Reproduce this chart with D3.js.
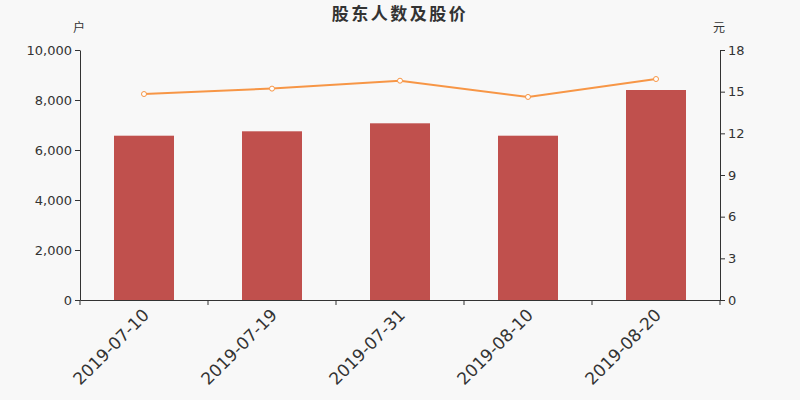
<!DOCTYPE html>
<html>
<head>
<meta charset="utf-8">
<script src="https://cdn.jsdelivr.net/npm/d3@7"></script>
<style>
  body { margin: 0; background: #f8f8f8; }
  svg, svg text { font-family: "DejaVu Sans", "Noto Sans CJK SC", sans-serif; }
</style>
</head>
<body>
<svg id="chart" width="800" height="400"></svg>
<script>
var dates = ["2019-07-10", "2019-07-19", "2019-07-31", "2019-08-10", "2019-08-20"];
var holders = [6572, 6748, 7068, 6572, 8400];
var prices = [14.83, 15.22, 15.79, 14.62, 15.91];
var leftTicks = [0, 2000, 4000, 6000, 8000, 10000];
var rightTicks = [0, 3, 6, 9, 12, 15, 18];

var svg = d3.select('#chart');
svg.append("rect").attr("width", 800).attr("height", 400).attr("fill", "#f8f8f8");

var margin = { top: 50, left: 80, bottom: 100, right: 80 };
var width = 800, height = 400;

var x = d3.scaleBand().domain(dates).range([margin.left, width - margin.right]).paddingInner(0);
var yL = d3.scaleLinear().domain([0, 10000]).range([height - margin.bottom, margin.top]);
var yR = d3.scaleLinear().domain([0, 18]).range([height - margin.bottom, margin.top]);

// title
svg.append("text")
    .attr("x", 400).attr("y", 20)
    .attr("text-anchor", "middle")
    .style("font-family", "'Noto Sans CJK SC', sans-serif")
    .style("font-size", "17px").style("font-weight", "bold")
    .style("letter-spacing", "2.5px")
    .attr("fill", "#333")
    .text("股东人数及股价");

// bars
svg.append("g").selectAll("rect")
    .data(holders)
    .enter().append("rect")
    .attr("x", function (d, i) { return x(dates[i]) + x.bandwidth() / 2 - 30; })
    .attr("width", 60)
    .attr("y", function (d) { return yL(d); })
    .attr("height", function (d) { return yL(0) - yL(d); })
    .attr("fill", "#c0504d");

// axes
var xAxis = svg.append("g")
    .attr("transform", "translate(0," + (height - margin.bottom) + ")")
    .call(d3.axisBottom(x).tickSize(0).tickFormat(""));
xAxis.select(".domain").attr("stroke", "#333");
xAxis.selectAll(".boundary")
    .data(d3.range(dates.length + 1))
    .enter().append("line")
    .attr("x1", function (i) { return margin.left + i * x.bandwidth(); })
    .attr("x2", function (i) { return margin.left + i * x.bandwidth(); })
    .attr("y1", 0).attr("y2", 5)
    .attr("stroke", "#333");

svg.append("g").selectAll("text")
    .data(dates)
    .enter().append("text")
    .attr("transform", function (d) {
        return "translate(" + (x(d) + x.bandwidth() / 2 + 2) + "," + (height - margin.bottom + 12) + ") rotate(-45)";
    })
    .attr("text-anchor", "end")
    .attr("dy", "0.35em")
    .style("font-size", "17px")
    .attr("fill", "#333")
    .text(function (d) { return d; });

var left = svg.append("g")
    .attr("transform", "translate(" + margin.left + ",0)")
    .call(d3.axisLeft(yL).tickValues(leftTicks).tickSize(5).tickSizeOuter(0).tickFormat(d3.format(",")));
var right = svg.append("g")
    .attr("transform", "translate(" + (width - margin.right) + ",0)")
    .call(d3.axisRight(yR).tickValues(rightTicks).tickSize(5).tickSizeOuter(0));
[left, right].forEach(function (a) {
    a.attr("font-family", null);
    a.select(".domain").attr("stroke", "#333");
    a.selectAll(".tick line").attr("stroke", "#333");
    a.selectAll(".tick text").attr("fill", "#333").style("font-size", "13px");
});

// units
svg.append("text").attr("x", 79).attr("y", 32).attr("text-anchor", "middle")
    .style("font-size", "12px").attr("fill", "#333").text("户");
svg.append("text").attr("x", 719).attr("y", 32).attr("text-anchor", "middle")
    .style("font-size", "12px").attr("fill", "#333").text("元");

// price line
var line = d3.line()
    .x(function (d, i) { return x(dates[i]) + x.bandwidth() / 2; })
    .y(function (d) { return yR(d); });
svg.append("path")
    .datum(prices)
    .attr("d", line)
    .attr("fill", "none")
    .attr("stroke", "#f79646")
    .attr("stroke-width", 2);
svg.append("g").selectAll("circle")
    .data(prices)
    .enter().append("circle")
    .attr("cx", function (d, i) { return x(dates[i]) + x.bandwidth() / 2; })
    .attr("cy", function (d) { return yR(d); })
    .attr("r", 2.5)
    .attr("fill", "#fff")
    .attr("stroke", "#f79646")
    .attr("stroke-width", 1);
</script>
</body>
</html>
